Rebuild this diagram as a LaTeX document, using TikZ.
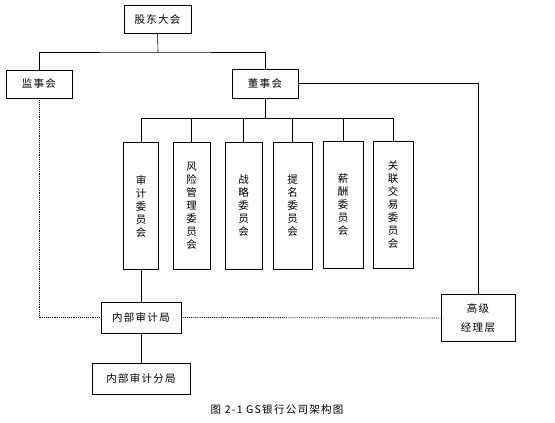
\documentclass[tikz,border=0pt]{standalone}
\usepackage{fontspec}
\setmainfont{Noto Sans CJK SC}[LetterSpace=12]
\usepackage{tikz}

\tikzset{
  box/.style={draw, line width=0.8pt, inner sep=0pt, font=\fontsize{10.5}{13}\selectfont},
  vbox/.style={box, align=center, minimum height=127pt},
  link/.style={line width=0.6pt},
  duty/.style={line width=0.9pt, densely dotted},
}

\begin{document}
\begin{tikzpicture}[x=1pt, y=-1pt]
\useasboundingbox (0,0) rectangle (555,423);
% top levels
\node[box, minimum width=67pt, minimum height=28pt] (gd) at (157.5,19) {股东大会};
\node[box, minimum width=66pt, minimum height=28pt] (js) at (39,84) {监事会};
\node[box, minimum width=66pt, minimum height=29pt] (ds) at (265,83.5) {董事会};
% committees
\node[vbox, minimum width=35pt] (c1) at (141,206) {审\\计\\委\\员\\会};
\node[vbox, minimum width=37pt] (c2) at (191.5,206) {风\\险\\管\\理\\委\\员\\会};
\node[vbox, minimum width=37pt] (c3) at (243.5,206) {战\\略\\委\\员\\会};
\node[vbox, minimum width=39pt] (c4) at (292.5,205.5) {提\\名\\委\\员\\会};
\node[vbox, minimum width=40pt] (c5) at (343,205) {薪\\酬\\委\\员\\会};
\node[vbox, minimum width=40pt] (c6) at (393,205) {关\\联\\交\\易\\委\\员\\会};
% audit and management
\node[box, minimum width=80pt, minimum height=31pt] (nb) at (141,317.5) {内部审计局};
\node[box, minimum width=98pt, minimum height=31pt] (nbf) at (141,378.5) {内部审计分局};
\node[box, align=center, minimum width=74pt, minimum height=47pt] (gj) at (478,318) {高级\\[6pt]经理层};
\node[font=\fontsize{10.5}{12}\selectfont] (cap) at (277,410) {图 2-1 GS银行公司架构图};

\coordinate (bar1) at (158,52);
\coordinate (bar2) at (265,118);
\draw[link] (gd.south) -- (bar1);
\draw[link] (js.north) |- (bar1) -| (ds.north);
\draw[link] (ds.south) -- (bar2);
\foreach \n in {c1,c2,c3,c4,c5,c6}
  \draw[link] (bar2) -| (\n.north);
\draw[link] (ds.east) -| (gj.north);
\draw[link] (c1.south) -- (nb.north);
\draw[link] (nb.south) -- (nbf.north);
\draw[duty] (js.south) |- (nb.west);
\draw[duty] (nb.east) -- (gj.west);
\end{tikzpicture}
\end{document}
